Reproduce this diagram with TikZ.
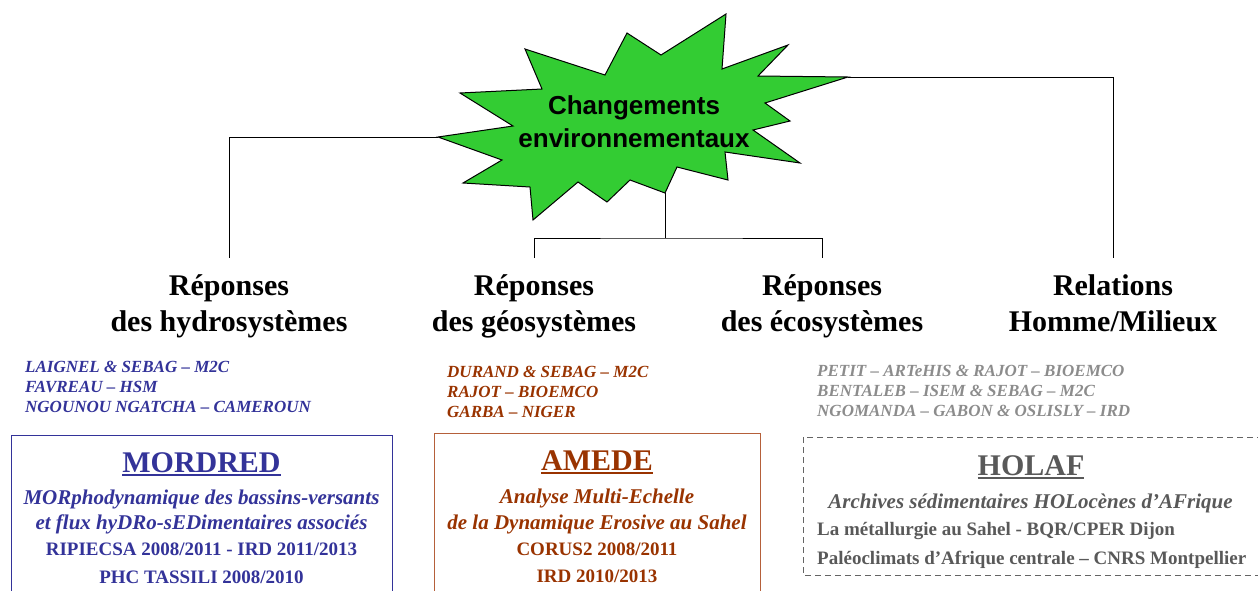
\documentclass[tikz,border=0pt]{standalone}
\usepackage{fontspec}
\setmainfont{Liberation Serif}
\setsansfont{Liberation Sans}
\definecolor{blueT}{RGB}{51,51,153}
\definecolor{brownT}{RGB}{153,51,0}
\definecolor{brownB}{RGB}{181,96,58}
\definecolor{grayN}{RGB}{140,140,140}
\definecolor{grayT}{RGB}{89,89,89}
\definecolor{grayB}{RGB}{100,100,100}
\definecolor{starG}{RGB}{51,204,51}
\newcommand\thickul[1]{\leavevmode\setbox0=\hbox{#1}\rlap{\rule[-4pt]{\wd0}{2.5pt}}\box0}
\begin{document}
\begin{tikzpicture}[x=1pt,y=-1pt,
  conn/.style={draw=black, line width=1pt},
  head/.style={font=\bfseries\fontsize{30}{36}\selectfont, align=center, inner sep=0pt, anchor=north},
  names/.style={font=\bfseries\itshape\fontsize{17}{20}\selectfont, align=left, inner sep=0pt, anchor=north west},
  ttl/.style={font=\bfseries\fontsize{30}{30}\selectfont, inner sep=0pt, anchor=base},
  sub/.style={font=\bfseries\itshape\fontsize{21}{24}\selectfont, inner sep=0pt, anchor=base},
  info/.style={font=\bfseries\fontsize{19}{22}\selectfont, inner sep=0pt, anchor=base},
  infol/.style={font=\bfseries\fontsize{19}{22}\selectfont, inner sep=0pt, anchor=base west}]
\useasboundingbox (0,0) rectangle (1258,590);
\clip (0,0) rectangle (1258,590);
% star
\draw[fill=starG, draw=black, line width=1pt, line join=miter]
  (438,137) coordinate (starL) -- (513,126) -- (460,93) -- (542,89) -- (525,49) -- (605,75) -- (627,33) -- (661,55) -- (726,14) -- (722,69) -- (788,45) -- (758,76) -- (848,77) coordinate (starR) -- (765,103) -- (790,121) -- (753,130) -- (800,163) -- (725,152) -- (728,180) -- (677,167) -- (665,193) coordinate (starB) -- (630,180) -- (607,202) -- (578,182) -- (533,220) -- (530,187) -- (463,183) -- (502,160) -- cycle;
\node[font=\sffamily\bfseries\fontsize{26}{33}\selectfont, align=center, inner sep=0pt] (star) at (634,122) {Changements\\environnementaux};
% headings
\node[head] (h1) at (229,274) {Réponses\\des hydrosystèmes};
\node[head] (h2) at (534,274) {Réponses\\des géosystèmes};
\node[head] (h3) at (822,274) {Réponses\\des écosystèmes};
\node[head] (h4) at (1113,274) {Relations\\Homme/Milieux};
% connectors
\coordinate (fork) at (665,238);
\draw[conn] (starL) -| ([yshift=16pt]h1.north);
\draw[conn] (starR) -| ([yshift=16pt]h4.north);
\draw[conn] (starB) -- (fork);
\draw[conn] ([yshift=16pt]h2.north) |- (fork) -| ([yshift=16pt]h3.north);
% names
\node[names, text=blueT] (n1) at (25,361) {LAIGNEL \& SEBAG – M2C\\FAVREAU – HSM\\NGOUNOU NGATCHA – CAMEROUN};
\node[names, text=brownT] (n2) at (447,366) {DURAND \& SEBAG – M2C\\RAJOT – BIOEMCO\\GARBA – NIGER};
\node[names, text=grayN] (n3) at (817,365) {PETIT – ARTeHIS \& RAJOT – BIOEMCO\\BENTALEB – ISEM \& SEBAG – M2C\\NGOMANDA – GABON \& OSLISLY – IRD};
% boxes
\draw[draw=blueT, line width=1pt] (11,435) rectangle (392,600);
\draw[draw=brownB, line width=1pt] (434,433) rectangle (760,600);
\draw[draw=grayB, line width=1pt, dash pattern=on 6pt off 4pt] (803,437) rectangle (1275,575);
% MORDRED
\node[ttl, text=blueT] (mT) at (201.5,472) {\thickul{MORDRED}};
\node[sub, text=blueT] (m1) at (201.5,504) {MORphodynamique des bassins-versants};
\node[sub, text=blueT] (m2) at (201.5,529) {et flux hyDRo-sEDimentaires associés};
\node[info, text=blueT] (m3) at (201.5,555) {RIPIECSA 2008/2011 - IRD 2011/2013};
\node[info, text=blueT] (m4) at (201.5,583) {PHC TASSILI 2008/2010};
% AMEDE
\node[ttl, text=brownT] (aT) at (597,470) {\thickul{AMEDE}};
\node[sub, text=brownT] (a1) at (597,503) {Analyse Multi-Echelle};
\node[sub, text=brownT] (a2) at (597,529) {de la Dynamique Erosive au Sahel};
\node[info, text=brownT] (a3) at (597,555) {CORUS2 2008/2011};
\node[info, text=brownT] (a4) at (597,582) {IRD 2010/2013};
% HOLAF
\node[ttl, text=grayT] (hT) at (1031,475) {\thickul{HOLAF}};
\node[sub, text=grayT] (o1) at (1030.5,508) {Archives sédimentaires HOLocènes d’AFrique};
\node[infol, text=grayT] (o2) at (817,535) {La métallurgie au Sahel - BQR/CPER Dijon};
\node[infol, text=grayT] (o3) at (817,564) {Paléoclimats d’Afrique centrale – CNRS Montpellier};
\end{tikzpicture}
\end{document}
